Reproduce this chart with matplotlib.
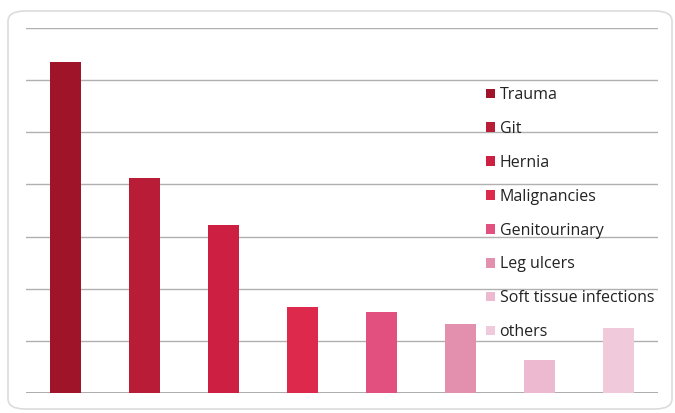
import matplotlib
matplotlib.use("Agg")
import matplotlib.pyplot as plt
from matplotlib.patches import FancyBboxPatch, Patch

categories = ["Trauma", "Git", "Hernia", "Malignancies", "Genitourinary",
              "Leg ulcers", "Soft tissue infections", "others"]
values = [63.5, 41.3, 32.3, 16.5, 15.6, 13.3, 6.3, 12.5]
colors = ["#A0142A", "#B81C36", "#CC1F42", "#DD2A4C", "#E2507F",
          "#E38FAE", "#EDB9D1", "#F0CADB"]
yticks = [0, 10, 20, 30, 40, 50, 60, 70]

plt.rcParams['font.family'] = ['Open Sans', 'DejaVu Sans']

fig = plt.figure(figsize=(6.75, 4.13), dpi=100)
fig.patch.set_facecolor("white")

frame = FancyBboxPatch((8/675, 4/413), (664/675), (398/413),
                       boxstyle="round,pad=0,rounding_size=0.025",
                       transform=fig.transFigure, facecolor="white",
                       edgecolor="#DCDCDC", linewidth=1.2, zorder=-5)
fig.patches.append(frame)

ax = fig.add_axes([26/675, 20/413, 632/675, 365/413])
ax.set_zorder(1)
ax.set_facecolor("none")
x = list(range(len(categories)))
ax.bar(x, values, width=0.4, color=colors, zorder=3)
ax.set_xlim(-0.5, len(categories) - 0.5)
ax.set_ylim(0, 70)
ax.set_yticks(yticks)
ax.grid(axis="y", color="#B0B0B0", linewidth=1.0, zorder=0)
ax.set_axisbelow(True)
ax.set_xticks([])
ax.tick_params(axis="y", length=0, labelleft=False)
for s in ax.spines.values():
    s.set_visible(False)
ax.axhline(0, color="#A0A0A0", linewidth=1.2, zorder=1)

handles = [Patch(facecolor=c, edgecolor="none") for c in colors]
leg = fig.legend(handles, categories, loc="upper left",
                 bbox_to_anchor=(486/675, 1 - 87/413),
                 frameon=False, fontsize=11.5, handlelength=0.55, handleheight=0.55,
                 handletextpad=0.3, labelspacing=1.12, borderpad=0,
                 borderaxespad=0)
leg.set_zorder(5)
for t in leg.get_texts():
    t.set_color("#222222")

fig.savefig("out.png", dpi=100, facecolor="white")
